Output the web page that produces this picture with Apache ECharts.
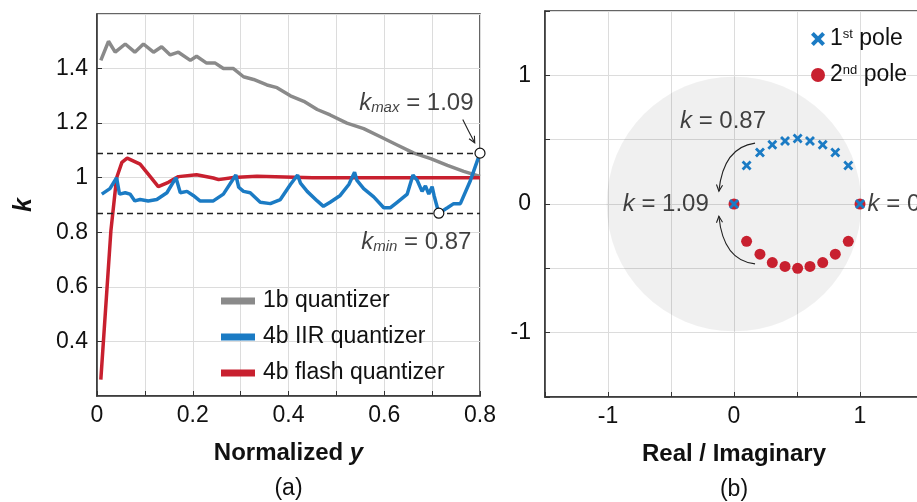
<!DOCTYPE html>
<html>
<head>
<meta charset="utf-8">
<script src="https://cdn.jsdelivr.net/npm/echarts@6/dist/echarts.min.js"></script>
<style>
  html, body { margin: 0; padding: 0; background: #fff; }
  #chart { width: 917px; height: 502px; }
</style>
</head>
<body>
<div id="chart"></div>
<script>
// (a) k versus normalized y
const grayX = [0.008, 0.024, 0.038, 0.059, 0.079, 0.097, 0.118, 0.135, 0.153, 0.17, 0.195, 0.208, 0.229, 0.247, 0.264, 0.285, 0.306, 0.327, 0.355, 0.376, 0.404, 0.432, 0.46, 0.487, 0.522, 0.557, 0.592, 0.627, 0.662, 0.697, 0.732, 0.766, 0.80];
const grayK = [1.43, 1.50, 1.46, 1.49, 1.46, 1.49, 1.46, 1.48, 1.45, 1.46, 1.43, 1.445, 1.42, 1.42, 1.40, 1.40, 1.37, 1.36, 1.34, 1.33, 1.30, 1.28, 1.25, 1.23, 1.20, 1.18, 1.15, 1.12, 1.09, 1.07, 1.045, 1.023, 1.005];

const blueX = [0.01, 0.027, 0.041, 0.047, 0.059, 0.069, 0.079, 0.09, 0.107, 0.125, 0.146, 0.165, 0.174, 0.188, 0.201, 0.215, 0.243, 0.264, 0.29, 0.296, 0.306, 0.32, 0.341, 0.362, 0.383, 0.404, 0.419, 0.425, 0.439, 0.46, 0.473, 0.487, 0.508, 0.526, 0.538, 0.543, 0.557, 0.578, 0.599, 0.613, 0.627, 0.648, 0.66, 0.669, 0.679, 0.686, 0.693, 0.70, 0.704, 0.714, 0.732, 0.745, 0.759, 0.78, 0.80];
const blueK = [0.94, 0.96, 1.00, 0.94, 0.945, 0.94, 0.915, 0.92, 0.915, 0.92, 0.945, 1.00, 0.945, 0.95, 0.935, 0.915, 0.915, 0.94, 1.01, 0.965, 0.95, 0.945, 0.91, 0.905, 0.92, 0.975, 1.01, 0.98, 0.95, 0.915, 0.895, 0.91, 0.935, 0.975, 1.02, 0.99, 0.96, 0.93, 0.89, 0.89, 0.91, 0.94, 1.01, 0.99, 0.95, 0.97, 0.94, 0.967, 0.935, 0.87, 0.89, 0.905, 0.905, 0.99, 1.09];

const redX = [0.008, 0.029, 0.041, 0.052, 0.063, 0.09, 0.107, 0.128, 0.149, 0.17, 0.208, 0.243, 0.254, 0.285, 0.334, 0.45, 0.6, 0.8];
const redK = [0.26, 0.805, 1.0, 1.056, 1.072, 1.05, 1.013, 0.967, 0.983, 1.004, 1.011, 0.999, 0.993, 1.001, 1.005, 1.0, 1.0, 1.0];

const kMax = [0.8, 1.09];
const kMin = [0.714, 0.87];

// (b) pole locations
const poleRe = [0, 0.1, 0.206, 0.304, 0.405, 0.505, 0.603, 0.704, 0.804, 0.907, 1];
const pole1Im = [0, 0.30, 0.40, 0.46, 0.49, 0.51, 0.49, 0.46, 0.40, 0.30, 0];
const pole2Im = [0, -0.29, -0.39, -0.455, -0.485, -0.50, -0.485, -0.455, -0.39, -0.29, 0];

// annotation arrows: [x start, y start, x control, y control, x end, y end]
const arrowsA = [[0.764, 1.213, 0.776, 1.17, 0.789, 1.128]];
const arrowsB = [
    [0.167, 0.473, -0.085, 0.44, -0.12, 0.1],
    [0.167, -0.465, -0.085, -0.44, -0.12, -0.095]
];

const FONT = '"Liberation Sans Narrow", "Arial Narrow", "Liberation Sans", sans-serif';
const BLUE = '#1b7bc4';
const RED = '#c8202f';
const GRAY = '#8a8a8a';
const GRID = '#dcdcdc';
const CROSS = 'path://M2,0 L5,3 L8,0 L10,2 L7,5 L10,8 L8,10 L5,7 L2,10 L0,8 L3,5 L0,2 Z';

const zip = (xs, ys) => xs.map((x, i) => [x, ys[i]]);

// curved arrow with an open arrow head, drawn from data coordinates
function renderArrow(params, api) {
    const p0 = api.coord([api.value(0), api.value(1)]);
    const c = api.coord([api.value(2), api.value(3)]);
    const p1 = api.coord([api.value(4), api.value(5)]);
    const ang = Math.atan2(p1[1] - c[1], p1[0] - c[0]);
    const L = 7, a = 0.45;
    const h1 = [p1[0] - L * Math.cos(ang - a), p1[1] - L * Math.sin(ang - a)];
    const h2 = [p1[0] - L * Math.cos(ang + a), p1[1] - L * Math.sin(ang + a)];
    const style = { stroke: '#222', lineWidth: 1.1, fill: null };
    return {
        type: 'group',
        children: [
            { type: 'bezierCurve', shape: { x1: p0[0], y1: p0[1], cpx1: c[0], cpy1: c[1], x2: p1[0], y2: p1[1] }, style },
            { type: 'polyline', shape: { points: [h1, p1, h2] }, style }
        ]
    };
}

const chart = echarts.init(document.getElementById('chart'));

const axisCommon = {
    axisLine: { show: true, onZero: false, lineStyle: { color: '#333', width: 1.5 } },
    axisTick: { show: true, inside: true, length: 5, lineStyle: { color: '#333' } },
    axisLabel: { color: '#111', fontSize: 23, fontFamily: FONT },
    splitLine: { show: true, lineStyle: { color: GRID, width: 1 } }
};

chart.setOption({
    animation: false,
    textStyle: { fontFamily: FONT },
    grid: [
        { left: 97, top: 14, width: 383, height: 382, outerBoundsMode: 'none', containLabel: false,
          show: true, borderColor: '#333', borderWidth: 1.5 },
        { left: 545, top: 11, width: 378, height: 386, outerBoundsMode: 'none', containLabel: false,
          show: true, borderColor: '#333', borderWidth: 1.5 }
    ],
    xAxis: [
        {
            ...axisCommon, gridIndex: 0, type: 'value', min: 0, max: 0.8, interval: 0.2,
            axisLabel: { ...axisCommon.axisLabel, margin: 8 },
            minorTick: { show: true, splitNumber: 2, length: 5, lineStyle: { color: '#333' } },
            minorSplitLine: { show: true, lineStyle: { color: GRID } },
            name: '{b|Normalized }{bi|y}\n{n|(a)}',
            nameLocation: 'middle', nameGap: 39,
            nameTextStyle: {
                rich: {
                    b: { fontSize: 24, fontWeight: 'bold', fontFamily: FONT, color: '#111', lineHeight: 36 },
                    bi: { fontSize: 24, fontWeight: 'bold', fontStyle: 'italic', fontFamily: FONT, color: '#111', lineHeight: 36 },
                    n: { fontSize: 23, fontFamily: FONT, color: '#111', lineHeight: 36 }
                }
            }
        },
        {
            ...axisCommon, gridIndex: 1, type: 'value', min: -1.5, max: 1.5, interval: 0.5,
            axisLabel: { ...axisCommon.axisLabel, margin: 8, formatter: v => Number.isInteger(v) ? String(v) : '' },
            name: '{b|Real / Imaginary}\n{n|(b)}',
            nameLocation: 'middle', nameGap: 39,
            nameTextStyle: {
                rich: {
                    b: { fontSize: 24, fontWeight: 'bold', fontFamily: FONT, color: '#111', lineHeight: 36 },
                    n: { fontSize: 23, fontFamily: FONT, color: '#111', lineHeight: 36 }
                }
            }
        }
    ],
    yAxis: [
        {
            ...axisCommon, gridIndex: 0, type: 'value', min: 0.2, max: 1.6, interval: 0.2,
            axisLabel: { ...axisCommon.axisLabel, margin: 9, showMinLabel: false, showMaxLabel: false },
            name: 'k', nameLocation: 'middle', nameGap: 60,
            nameTextStyle: { fontSize: 25, fontWeight: 'bold', fontStyle: 'italic', fontFamily: FONT, color: '#111' }
        },
        {
            ...axisCommon, gridIndex: 1, type: 'value', min: -1.5, max: 1.5, interval: 0.5,
            axisLabel: { ...axisCommon.axisLabel, margin: 14, formatter: v => Number.isInteger(v) ? String(v) : '' }
        }
    ],
    legend: [
        {
            data: ['1b quantizer', '4b IIR quantizer', '4b flash quantizer'],
            orient: 'vertical', left: 216, top: 284, itemGap: 12,
            itemWidth: 34, itemHeight: 7, icon: 'rect',
            textStyle: { fontSize: 23, fontFamily: FONT, color: '#111', padding: [0, 0, 0, 3], lineHeight: 24 }
        },
        {
            data: [
                { name: '1st pole', icon: CROSS },
                { name: '2nd pole', icon: 'circle' }
            ],
            orient: 'vertical', left: 806, top: 22, itemGap: 12,
            itemWidth: 14, itemHeight: 14,
            formatter: name => name === '1st pole' ? '1{s|st} pole' : '2{s|nd} pole',
            textStyle: {
                fontSize: 23, fontFamily: FONT, color: '#111', lineHeight: 24,
                rich: { s: { fontSize: 13, fontFamily: FONT, color: '#111', padding: [0, 0, 10, 0] } }
            }
        }
    ],
    series: [
        {
            name: '1b quantizer', type: 'line', xAxisIndex: 0, yAxisIndex: 0,
            data: zip(grayX, grayK), showSymbol: false, color: GRAY,
            lineStyle: { width: 3.5, color: GRAY }, z: 3
        },
        {
            name: '4b flash quantizer', type: 'line', xAxisIndex: 0, yAxisIndex: 0,
            data: zip(redX, redK), showSymbol: false, color: RED,
            lineStyle: { width: 3.5, color: RED }, z: 3
        },
        {
            name: '4b IIR quantizer', type: 'line', xAxisIndex: 0, yAxisIndex: 0,
            data: zip(blueX, blueK), showSymbol: false, color: BLUE,
            lineStyle: { width: 3.5, color: BLUE }, z: 4,
            markLine: {
                silent: true, symbol: 'none', label: { show: false },
                lineStyle: { type: [6, 4], color: '#222', width: 1.3 },
                data: [{ yAxis: kMax[1] }, { yAxis: kMin[1] }]
            }
        },
        {
            name: 'extremes', type: 'scatter', xAxisIndex: 0, yAxisIndex: 0,
            data: [kMax, kMin], symbol: 'circle', symbolSize: 10,
            itemStyle: { color: '#fff', borderColor: '#111', borderWidth: 1.2, opacity: 1 }, z: 6
        },
        {
            name: 'labelsA', type: 'scatter', xAxisIndex: 0, yAxisIndex: 0,
            symbolSize: 0, z: 6,
            data: [
                { value: [0.667, 1.28], label: { formatter: '{k|k}{s|max}{t| = 1.09}' } },
                { value: [0.667, 0.772], label: { formatter: '{k|k}{s|min}{t| = 0.87}' } }
            ],
            label: {
                show: true, position: 'inside', color: '#111',
                rich: {
                    k: { fontSize: 24, fontStyle: 'italic', fontFamily: FONT, color: '#111', verticalAlign: 'bottom', lineHeight: 28 },
                    s: { fontSize: 15, fontStyle: 'italic', fontFamily: FONT, color: '#111', verticalAlign: 'bottom', lineHeight: 28, padding: [16, 0, 0, 0] },
                    t: { fontSize: 24, fontFamily: FONT, color: '#111', verticalAlign: 'bottom', lineHeight: 28 }
                }
            }
        },
        {
            name: 'arrowsA', type: 'custom', xAxisIndex: 0, yAxisIndex: 0,
            data: arrowsA, renderItem: renderArrow, silent: true, z: 6
        },
        {
            name: 'disc', type: 'custom', xAxisIndex: 1, yAxisIndex: 1,
            data: [[0, 0, 1]], silent: true, z: 1,
            renderItem: (params, api) => {
                const c = api.coord([api.value(0), api.value(1)]);
                const s = api.size([api.value(2), api.value(2)]);
                return {
                    type: 'circle',
                    shape: { cx: c[0], cy: c[1], r: (s[0] + s[1]) / 2 },
                    style: { fill: 'rgba(0,0,0,0.06)' }
                };
            }
        },
        {
            name: '2nd pole', type: 'scatter', xAxisIndex: 1, yAxisIndex: 1,
            data: zip(poleRe, pole2Im), symbol: 'circle', symbolSize: 11,
            color: RED, itemStyle: { color: RED, opacity: 1 }, z: 4
        },
        {
            name: '1st pole', type: 'scatter', xAxisIndex: 1, yAxisIndex: 1,
            data: zip(poleRe, pole1Im), symbol: CROSS, symbolSize: 10,
            color: BLUE, itemStyle: { color: BLUE, opacity: 1 }, z: 5
        },
        {
            name: 'labelsB', type: 'scatter', xAxisIndex: 1, yAxisIndex: 1,
            symbolSize: 0, z: 6,
            data: [
                { value: [-0.087, 0.645], label: { formatter: '{k|k}{t| = 0.87}', position: 'inside' } },
                { value: [-0.2, 0], label: { formatter: '{k|k}{t| = 1.09}', position: 'left', distance: 0 } },
                { value: [1.06, 0], label: { formatter: '{k|k}{t| = 0}', position: 'right', distance: 0 } }
            ],
            label: {
                show: true, color: '#111',
                rich: {
                    k: { fontSize: 24, fontStyle: 'italic', fontFamily: FONT, color: '#111' },
                    t: { fontSize: 24, fontFamily: FONT, color: '#111' }
                }
            }
        },
        {
            name: 'arrowsB', type: 'custom', xAxisIndex: 1, yAxisIndex: 1,
            data: arrowsB, renderItem: renderArrow, silent: true, z: 6
        }
    ]
});
</script>
</body>
</html>
